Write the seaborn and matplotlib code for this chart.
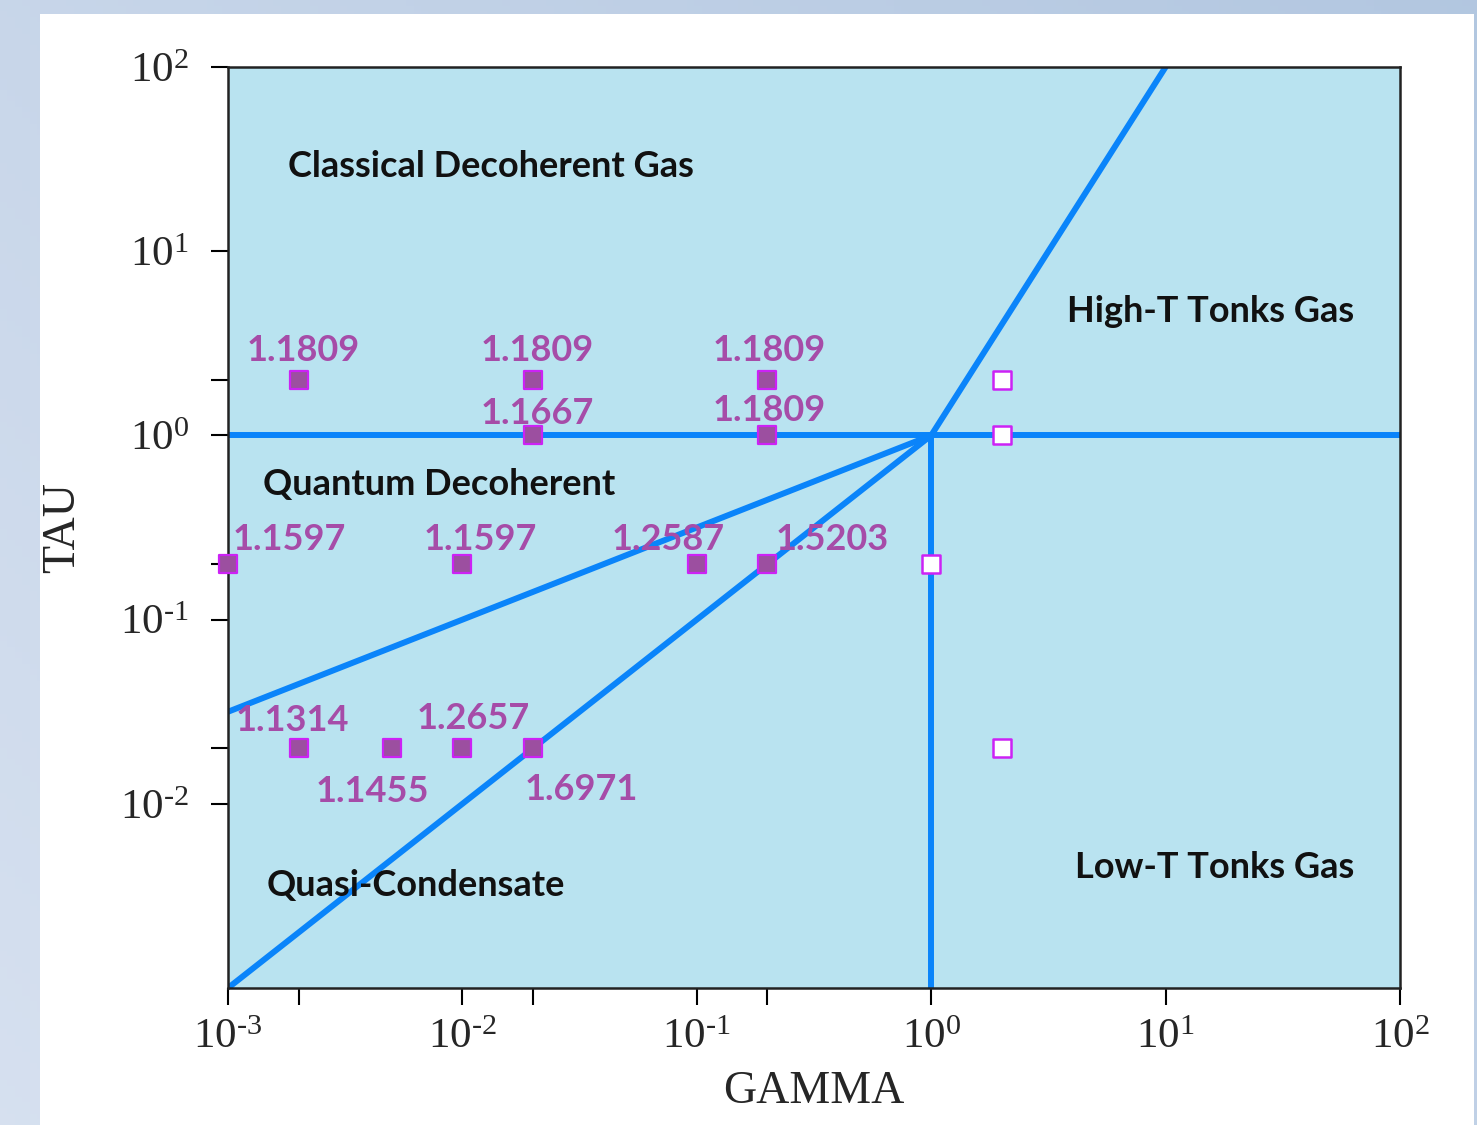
import numpy as np
import pandas as pd
import matplotlib
matplotlib.use("Agg")
import matplotlib.pyplot as plt
import seaborn as sns

# ---------------- data ----------------
# boundary lines (gamma, tau)
diag_gamma = [1e-3, 1.0, 10.0]
diag_tau = [1e-3, 1.0, 100.0]
sqrt_gamma = [1e-3, 1.0]
sqrt_tau = [0.0316, 1.0]
horiz_gamma = [1e-3, 1e2]
horiz_tau = [1.0, 1.0]
vert_gamma = [1.0, 1.0]
vert_tau = [1e-3, 1.0]

# filled points with labels
pt_gamma = [2e-3, 2e-2, 2e-1, 2e-2, 2e-1, 1e-3, 1e-2, 1e-1, 2e-1, 2e-3, 5e-3, 1e-2, 2e-2]
pt_tau = [2, 2, 2, 1, 1, 0.2, 0.2, 0.2, 0.2, 0.02, 0.02, 0.02, 0.02]
pt_labels = ["1.1809", "1.1809", "1.1809", "1.1667", "1.1809",
             "1.1597", "1.1597", "1.2587", "1.5203",
             "1.1314", "1.1455", "1.2657", "1.6971"]
# label offsets (pixels) relative to the point
label_dx = [5, 4, 2, 4, 2, 61, 18, -29, 65, -6, -19, 11, 48]
label_dy = [29, 29, 29, 22, 25, 25, 25, 25, 25, 28, -43, 30, -41]

# open points
open_gamma = [2, 2, 1, 2]
open_tau = [2, 1, 0.2, 0.02]

regions = ["Classical Decoherent Gas", "High-T Tonks Gas", "Quantum Decoherent",
           "Quasi-Condensate", "Low-T Tonks Gas"]
region_x = [0.0512, 0.9608, 0.0299, 0.0333, 0.9608]
region_y = [0.8925, 0.734, 0.547, 0.1118, 0.1303]
region_ha = ["left", "right", "left", "left", "right"]

xticks_major = [1e-3, 1e-2, 1e-1, 1e0, 1e1, 1e2]
xtick_exps = ["\u20103", "\u20102", "\u20101", "0", "1", "2"]
xticks_minor = [2e-3, 2e-2, 2e-1]
yticks_major = [1e-2, 1e-1, 1e0, 1e1, 1e2]
ytick_exps = ["\u20102", "\u20101", "0", "1", "2"]
yticks_minor = [2e-2, 2e-1, 2]

# ---------------- style ----------------
sns.set_theme(style="ticks")
plt.rcParams["font.family"] = ["Liberation Serif", "DejaVu Serif"]
plt.rcParams["mathtext.fontset"] = "custom"
plt.rcParams["mathtext.rm"] = "Liberation Serif"
plt.rcParams["mathtext.it"] = "Liberation Serif:italic"
plt.rcParams["mathtext.bf"] = "Liberation Serif:bold"

LINE = "#0a84fa"
FILL = "#9c4fa0"
EDGE = "#cc22f5"
LABEL = "#a64ca8"
BG = "#b9e3f0"

fig = plt.figure(figsize=(14.77, 11.25), dpi=100)

# background gradient + white panel
bgax = fig.add_axes([0, 0, 1, 1], zorder=-10)
gx = np.linspace(0, 1, 200)
gy = np.linspace(0, 1, 200)
GX, GY = np.meshgrid(gx, gy)
c1 = np.array([0.84, 0.88, 0.94])
c2 = np.array([0.70, 0.78, 0.88])
t = np.clip(0.6 * GX + 0.4 * (1 - GY), 0, 1)[..., None]
img = c1 * (1 - t) + c2 * t
bgax.imshow(img, extent=[0, 1, 0, 1], origin="upper", aspect="auto")
bgax.add_patch(plt.Rectangle((40 / 1477, 0), (1474 - 40) / 1477, 1 - 14 / 1125,
                             facecolor="white", edgecolor="none"))
bgax.set_xlim(0, 1)
bgax.set_ylim(0, 1)
bgax.axis("off")

ax = fig.add_axes([228 / 1477, 1 - 988 / 1125, (1400 - 228) / 1477, (988 - 67) / 1125])
ax.set_facecolor(BG)

def seg(g, tt):
    return pd.DataFrame({"gamma": g, "tau": tt, "order": range(len(g))})

for g, tt in [(diag_gamma, diag_tau), (sqrt_gamma, sqrt_tau),
              (horiz_gamma, horiz_tau), (vert_gamma, vert_tau)]:
    sns.lineplot(data=seg(g, tt), x="gamma", y="tau", sort=False, estimator=None,
                 color=LINE, linewidth=4.3, ax=ax, zorder=2, clip_on=True)

pts = pd.DataFrame({"gamma": pt_gamma, "tau": pt_tau})
sns.scatterplot(data=pts, x="gamma", y="tau", marker="s", s=150, color=FILL,
                edgecolor=EDGE, linewidth=1.6, ax=ax, zorder=4, clip_on=False)
opts = pd.DataFrame({"gamma": open_gamma, "tau": open_tau})
sns.scatterplot(data=opts, x="gamma", y="tau", marker="s", s=150, color="white",
                edgecolor=EDGE, linewidth=1.8, ax=ax, zorder=4, clip_on=False)

ax.set_xscale("log")
ax.set_yscale("log")
ax.set_xlim(1e-3, 1e2)
ax.set_ylim(1e-3, 1e2)

for g, tt, lab, dx, dy in zip(pt_gamma, pt_tau, pt_labels, label_dx, label_dy):
    ax.annotate(lab, (g, tt), xytext=(dx, dy), textcoords="offset pixels",
                ha="center", va="center", color=LABEL, fontsize=26,
                fontweight="bold", family=["Lato", "DejaVu Sans"], zorder=5)

for txt, x, y, ha in zip(regions, region_x, region_y, region_ha):
    ax.text(x, y, txt, transform=ax.transAxes, ha=ha, va="center",
            fontsize=26, fontweight="bold", color="#111111",
            family=["Lato", "DejaVu Sans"], zorder=5)

def fmt(e):
    return "$\\mathregular{10^{" + e + "}}$"

ax.set_xticks(xticks_major)
ax.set_xticklabels([fmt(e) for e in xtick_exps])
ax.set_xticks(xticks_minor, minor=True)
ax.set_yticks(yticks_major)
ax.set_yticklabels([fmt(e) for e in ytick_exps])
ax.set_yticks(yticks_minor, minor=True)
ax.xaxis.set_minor_formatter(matplotlib.ticker.NullFormatter())
ax.yaxis.set_minor_formatter(matplotlib.ticker.NullFormatter())
ax.tick_params(which="both", direction="out", length=12, width=1.5, color="black",
               labelsize=31)
ax.tick_params(axis="x", pad=10)
ax.tick_params(axis="y", pad=16)

for sp in ax.spines.values():
    sp.set_visible(True)
    sp.set_linewidth(1.8)
    sp.set_color("#222222")

ax.set_xlabel("GAMMA", fontsize=33, labelpad=10)
ax.set_ylabel("TAU", fontsize=33, labelpad=26)

fig.savefig("out.png", dpi=100)
